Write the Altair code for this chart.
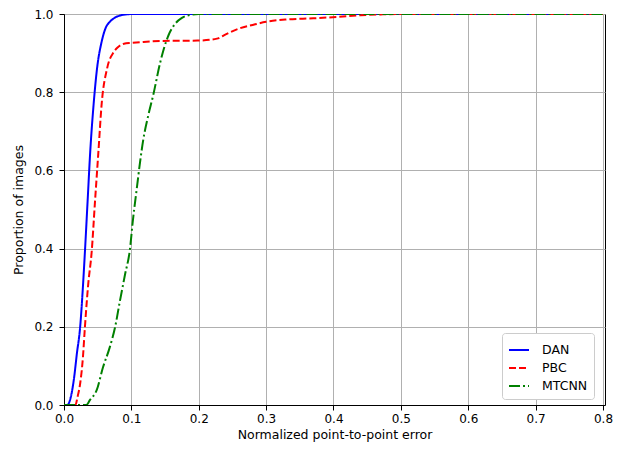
import altair as alt
import pandas as pd

methods = ["DAN", "PBC", "MTCNN"]
colors = ["#0000ff", "#ff0000", "#008000"]
dashes = [[1, 0], [7, 3], [11, 3, 2, 3]]

dan_x = [0.0, 0.005, 0.009, 0.015, 0.019, 0.024, 0.028, 0.031, 0.035, 0.039, 0.044,
         0.049, 0.056, 0.062, 0.068, 0.075, 0.083, 0.092, 0.103, 0.13, 0.2, 0.8]
dan_y = [0.0, 0.0, 0.013, 0.07, 0.13, 0.2, 0.3, 0.39, 0.52, 0.65, 0.77,
         0.86, 0.93, 0.965, 0.98, 0.99, 0.996, 0.999, 1.0, 1.0, 1.0, 1.0]

pbc_x = [0.0, 0.017, 0.02, 0.024, 0.028, 0.031, 0.036, 0.041, 0.046, 0.051, 0.056,
         0.064, 0.074, 0.08, 0.089, 0.1, 0.114, 0.142, 0.198, 0.227, 0.24, 0.26,
         0.28, 0.3, 0.33, 0.37, 0.405, 0.44, 0.47, 0.5, 0.8]
pbc_y = [0.0, 0.0, 0.02, 0.055, 0.12, 0.198, 0.31, 0.39, 0.52, 0.646, 0.772,
         0.861, 0.903, 0.915, 0.924, 0.926, 0.928, 0.931, 0.932, 0.937, 0.948, 0.963,
         0.972, 0.98, 0.986, 0.989, 0.9925, 0.997, 0.999, 1.0, 1.0]

mtcnn_x = [0.0, 0.033, 0.0386, 0.0485, 0.058, 0.068, 0.0757, 0.083, 0.0905, 0.098,
           0.102, 0.108, 0.1128, 0.1177, 0.125, 0.1325, 0.1424, 0.148, 0.155,
           0.165, 0.175, 0.185, 0.2, 0.8]
mtcnn_y = [0.0, 0.0, 0.013, 0.038, 0.097, 0.148, 0.198, 0.266, 0.333, 0.40,
           0.468, 0.553, 0.62, 0.679, 0.74, 0.793, 0.873, 0.91, 0.945,
           0.975, 0.99, 0.997, 1.0, 1.0]

x_ticks = [0.0, 0.1, 0.2, 0.3, 0.4, 0.5, 0.6, 0.7, 0.8]
y_ticks = [0.0, 0.2, 0.4, 0.6, 0.8, 1.0]

rows = []
for name, xs, ys in [("DAN", dan_x, dan_y), ("PBC", pbc_x, pbc_y), ("MTCNN", mtcnn_x, mtcnn_y)]:
    for i, (xv, yv) in enumerate(zip(xs, ys)):
        rows.append({"method": name, "err": xv, "prop": yv, "i": i})
df = pd.DataFrame(rows)

FONT = "DejaVu Sans"

chart = alt.Chart(df).mark_line(strokeWidth=2, interpolate="monotone", clip=True).encode(
    x=alt.X("err:Q",
            scale=alt.Scale(domain=[0, 0.803], nice=False, zero=False),
            axis=alt.Axis(values=x_ticks, format=".1f", title="Normalized point-to-point error",
                          labelPadding=3, titlePadding=4, labelFlush=False)),
    y=alt.Y("prop:Q",
            scale=alt.Scale(domain=[0, 1], nice=False),
            axis=alt.Axis(values=y_ticks, format=".1f", title="Proportion of images",
                          labelPadding=6, titlePadding=8)),
    color=alt.Color("method:N", scale=alt.Scale(domain=methods, range=colors),
                    legend=alt.Legend(title=None)),
    strokeDash=alt.StrokeDash("method:N", scale=alt.Scale(domain=methods, range=dashes),
                              legend=alt.Legend(title=None)),
    order="i:Q",
).properties(
    width=541, height=391,
    autosize="none",
    padding={"left": 56, "top": 6, "right": 9, "bottom": 39},
).configure_view(
    stroke="black", strokeWidth=1
).configure_axis(
    domainColor="black", tickColor="black", tickSize=5,
    gridColor="#b0b0b0", gridWidth=1, gridOpacity=1,
    labelFont=FONT, labelFontSize=12, labelColor="black",
    titleFont=FONT, titleFontSize=12.5, titleFontWeight="normal", titleColor="black",
).configure_legend(
    orient="none", legendX=438, legendY=319,
    symbolType="stroke", symbolSize=400, symbolStrokeWidth=2,
    labelFont=FONT, labelFontSize=12.5, labelColor="black", labelOffset=12,
    padding=6, rowPadding=0,
    strokeColor="#cccccc", fillColor="white", cornerRadius=3,
)

chart.save("out.html", embed_options={"renderer": "svg", "actions": False})
